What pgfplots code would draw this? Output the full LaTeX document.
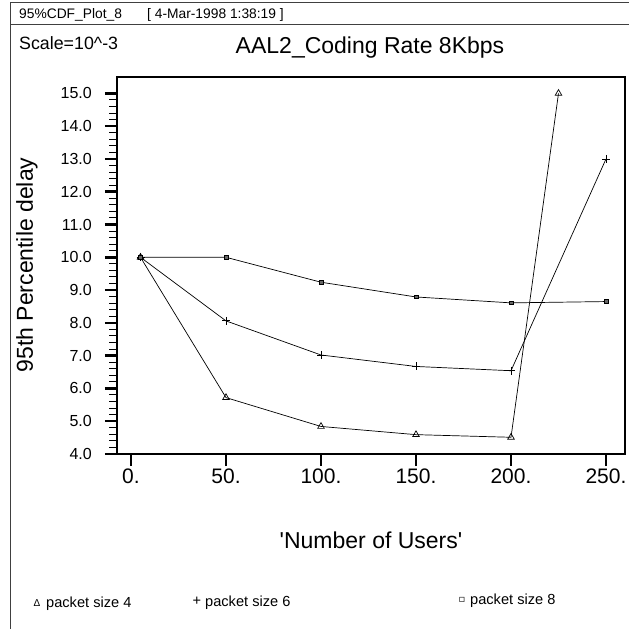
\documentclass[border=0pt]{standalone}
\usepackage{pgfplots}
\pgfplotsset{compat=1.18}
\usepackage{fontspec}
\setmainfont{Liberation Sans}
\newfontfamily\plainfont{Liberation Sans}
\newfontfamily\dejavu{DejaVu Sans}
\newcommand{\fs}[1]{\fontsize{#1}{#1}\selectfont}
\begin{document}
\begin{tikzpicture}
\path[use as bounding box] (0,0) rectangle (629bp,629bp);
\draw[line width=0.8bp, black!75] (10bp,0) -- (10bp,627bp) -- (629bp,627bp);
\draw[line width=0.8bp, black!75] (10bp,605bp) -- (629bp,605bp);
\node[anchor=west, inner sep=0pt, font=\fs{13.8bp}] at (19bp,614bp) {95\%CDF\_Plot\_8};
\node[anchor=west, inner sep=0pt, font=\fs{13.8bp}] at (147bp,614bp) {[ 4-Mar-1998 1:38:19 ]};
\node[anchor=west, inner sep=0pt, font=\fs{17.8bp}] at (19bp,586bp) {Scale=10\^{}-3};
\node[inner sep=0pt, font=\fs{23bp}] at (370bp,581bp) {AAL2\_Coding Rate 8Kbps};
\node[inner sep=0pt, font=\fs{23bp}, rotate=90] at (27bp,364bp) {95th Percentile delay};
\node[inner sep=0pt, font=\fs{23bp}\plainfont] at (371bp,89bp) {'Number of Users'};
% legend
\node[inner sep=0pt, font=\fs{10bp}, anchor=base] at (37bp,23bp) {Δ};
\node[inner sep=0pt, font=\fs{14.6bp}, anchor=base west] at (46bp,22bp) {packet size 4};
\node[inner sep=0pt, font=\fs{14.6bp}, anchor=base] at (197bp,24bp) {+};
\node[inner sep=0pt, font=\fs{14.6bp}, anchor=base west] at (205bp,23bp) {packet size 6};
\node[inner sep=0pt, font=\fs{10bp}, anchor=base] at (462bp,27bp) {\dejavu ▫};
\node[inner sep=0pt, font=\fs{14.6bp}, anchor=base west] at (470bp,25bp) {packet size 8};
\begin{axis}[
  at={(117bp,175bp)}, anchor=south west, scale only axis,
  width=508bp, height=377bp,
  xmin=-7.37, xmax=260, ymin=4, ymax=15.5,
  xtick={0,50,100,150,200,250},
  xticklabels={0.,50.,100.,150.,200.,250.},
  ytick={4,5,6,7,8,9,10,11,12,13,14,15},
  yticklabels={4.0,5.0,6.0,7.0,8.0,9.0,10.0,11.0,12.0,13.0,14.0,15.0},
  minor y tick num=4,
  tick align=outside, xtick pos=bottom, ytick pos=left,
  major tick length=12bp, minor tick length=8bp,
  major tick style={line width=2.5bp, black},
  minor tick style={line width=1bp, black},
  axis line style={line width=1.2bp},
  yticklabel style={font=\fs{16bp}, inner sep=0pt, anchor=east, xshift=-13bp},
  xticklabel style={font=\fs{21bp}, inner sep=0pt, anchor=north, yshift=-3bp},
]
\addplot[black, line width=0.7bp, mark=triangle, mark size=3.8bp, mark options={solid, line width=0.7bp}]
  coordinates {(5,10.0) (50,5.72) (100,4.84) (150,4.59) (200,4.51) (225,15.0)};
\addplot[black, line width=0.7bp, mark=+, mark size=4bp, mark options={line width=0.8bp}]
  coordinates {(5,10.0) (50,8.06) (100,7.02) (150,6.67) (200,6.54) (250,13.0)};
\addplot[black, line width=0.7bp, mark=square*, mark size=1.8bp, mark options={fill=black!60, line width=0.6bp}]
  coordinates {(5,10.0) (50,10.0) (100,9.24) (150,8.79) (200,8.61) (250,8.65)};
\end{axis}
\begin{axis}[
  at={(117bp,175bp)}, anchor=south west, scale only axis,
  width=508bp, height=377bp,
  xmin=-7.37, xmax=260, ymin=4, ymax=15.5,
  xtick=\empty, ytick=\empty,
  minor xtick={10,20,30,40,60,70,80,90,110,120,130,140,160,170,180,190,210,220,230,240,260},
  tick align=outside, xtick pos=bottom,
  minor tick length=5bp,
  minor tick style={line width=1bp, black},
  axis line style={line width=1.2bp},
]
\end{axis}
\end{tikzpicture}
\end{document}
